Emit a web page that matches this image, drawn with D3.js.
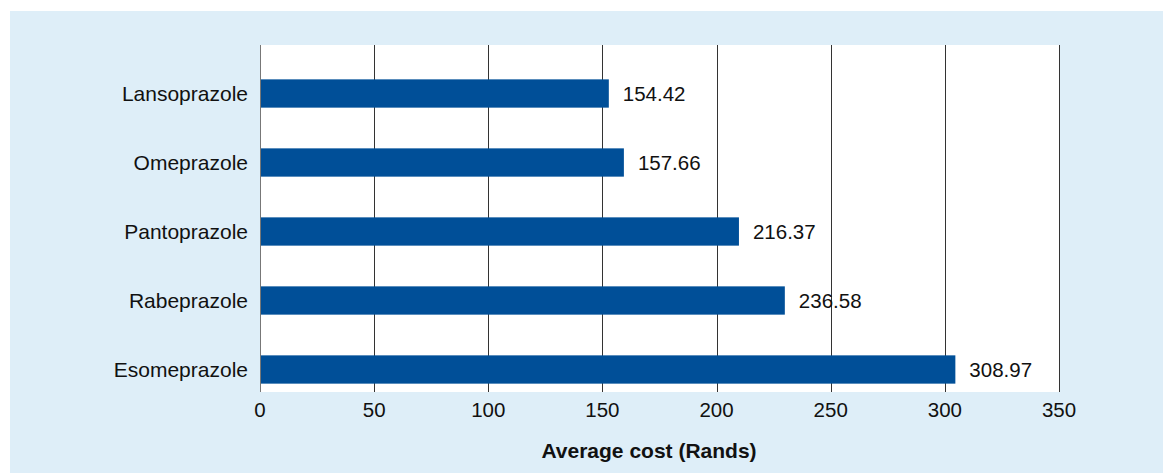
<!DOCTYPE html>
<html>
<head>
<meta charset="utf-8">
<script src="https://d3js.org/d3.v7.min.js"></script>
<style>
  body { margin: 0; background: #fff; }
  text { font-family: "Liberation Sans", Arial, Helvetica, sans-serif; fill: #111; }
</style>
</head>
<body>
<div id="my_dataviz"></div>
<script>

// data
var drugs = ["Lansoprazole", "Omeprazole", "Pantoprazole", "Rabeprazole", "Esomeprazole"];
var barLengths = [152.8, 159.4, 209.8, 229.9, 304.6];   // bar ends as drawn
var costLabels = ["154.42", "157.66", "216.37", "236.58", "308.97"];
var xTicks = [0, 50, 100, 150, 200, 250, 300, 350];

var W = 1163, H = 473;
var plot = {left: 260, right: 1059, top: 45, bottom: 392};

var svg = d3.select("#my_dataviz")
  .append("svg")
    .attr("width", W)
    .attr("height", H);

// light blue panel
svg.append("rect")
  .attr("x", 10)
  .attr("y", 11)
  .attr("width", W - 10)
  .attr("height", H - 11)
  .attr("fill", "#deeef8");

// white plot area
svg.append("rect")
  .attr("x", plot.left)
  .attr("y", plot.top)
  .attr("width", plot.right - plot.left)
  .attr("height", plot.bottom - plot.top)
  .attr("fill", "#fff");

var x = d3.scaleLinear()
  .domain([0, 350])
  .range([plot.left, plot.right]);

var y = d3.scaleBand()
  .domain(drugs)
  .range([59, 404])
  .paddingInner(0.59)
  .paddingOuter(0.295);

// vertical gridlines
svg.selectAll("line.grid")
  .data(xTicks)
  .enter()
  .append("line")
    .attr("class", "grid")
    .attr("x1", function(d) { return Math.round(x(d)) + 0.5; })
    .attr("x2", function(d) { return Math.round(x(d)) + 0.5; })
    .attr("y1", plot.top)
    .attr("y2", plot.bottom)
    .attr("stroke", function(d) { return d == 0 ? "#777" : "#333"; })
    .attr("stroke-width", 1);

// bars
svg.selectAll("rect.bar")
  .data(drugs)
  .enter()
  .append("rect")
    .attr("class", "bar")
    .attr("x", x(0) + 1)
    .attr("y", function(d) { return y(d); })
    .attr("width", function(d, i) { return x(barLengths[i]) - x(0) - 1; })
    .attr("height", y.bandwidth())
    .attr("fill", "#004f98");

// value labels
svg.selectAll("text.val")
  .data(drugs)
  .enter()
  .append("text")
    .attr("class", "val")
    .attr("x", function(d, i) { return x(barLengths[i]) + 14; })
    .attr("y", function(d) { return y(d) + y.bandwidth() / 2 + 7.5; })
    .style("font-size", "20.5px")
    .text(function(d, i) { return costLabels[i]; });

// category labels
svg.selectAll("text.cat")
  .data(drugs)
  .enter()
  .append("text")
    .attr("class", "cat")
    .attr("x", plot.left - 12)
    .attr("y", function(d) { return y(d) + y.bandwidth() / 2 + 7.5; })
    .attr("text-anchor", "end")
    .style("font-size", "21px")
    .text(function(d) { return d; });

// x tick labels
svg.selectAll("text.tick")
  .data(xTicks)
  .enter()
  .append("text")
    .attr("class", "tick")
    .attr("x", function(d) { return x(d); })
    .attr("y", 417)
    .attr("text-anchor", "middle")
    .style("font-size", "20.5px")
    .text(function(d) { return d; });

// x axis title
svg.append("text")
  .attr("x", 649)
  .attr("y", 458)
  .attr("text-anchor", "middle")
  .style("font-size", "21px")
  .style("font-weight", "bold")
  .text("Average cost (Rands)");

</script>
</body>
</html>
